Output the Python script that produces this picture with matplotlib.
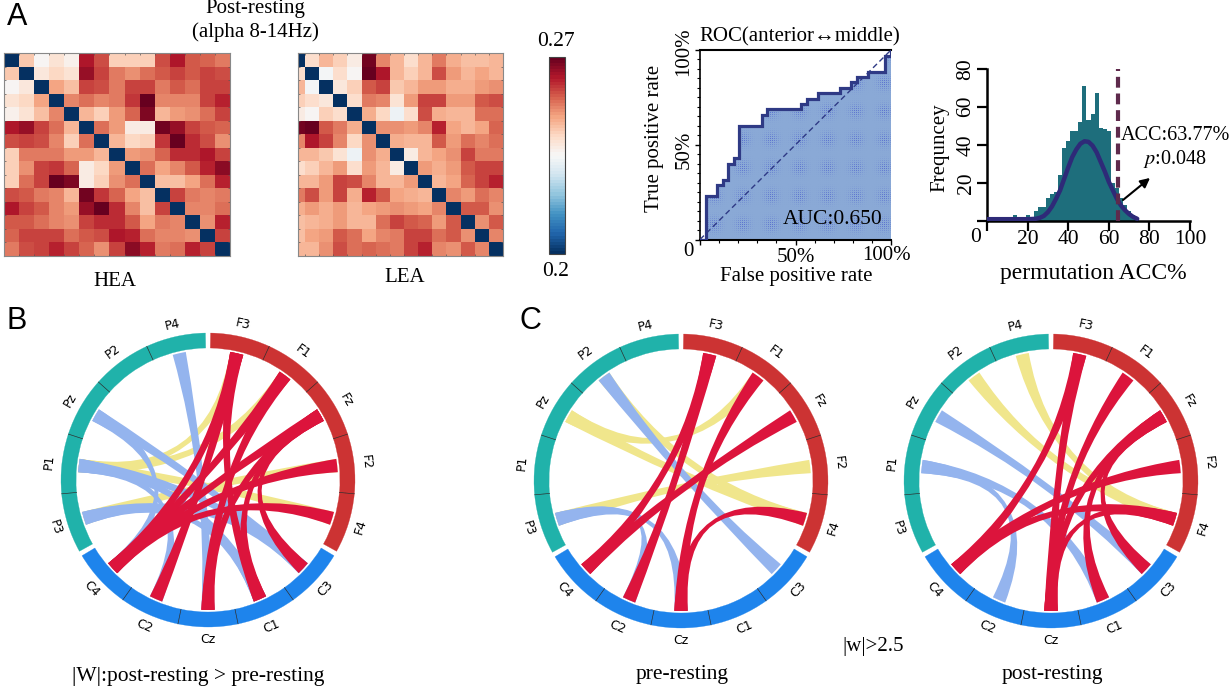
import numpy as np
import matplotlib
matplotlib.use("Agg")
import matplotlib.pyplot as plt
from matplotlib.patches import Wedge, PathPatch
from matplotlib.path import Path

# ---------- data ----------
hea_upper = [
 [.244,.236,.240,.237,.263,.257,.243,.243,.243,.257,.263,.256,.255,.253],
 [.239,.242,.240,.265,.259,.253,.251,.254,.256,.258,.256,.259,.257],
 [.249,.245,.259,.257,.253,.259,.259,.253,.256,.254,.258,.258],
 [.252,.254,.252,.253,.260,.269,.252,.252,.252,.258,.262],
 [.247,.243,.250,.255,.267,.246,.250,.251,.254,.259],
 [.254,.250,.238,.238,.268,.265,.259,.256,.255],
 [.247,.242,.243,.260,.270,.261,.257,.251],
 [.250,.251,.255,.261,.261,.263,.259],
 [.254,.249,.252,.256,.262,.266],
 [.245,.245,.249,.254,.262],
 [.258,.253,.252,.253],
 [.252,.252,.254],
 [.251,.262],
 [.259],
]
lea_upper = [
 [.241,.247,.243,.238,.268,.252,.247,.241,.247,.253,.248,.245,.245,.246],
 [.235,.241,.236,.270,.263,.247,.243,.247,.257,.250,.247,.249,.247],
 [.239,.243,.256,.258,.244,.246,.250,.250,.248,.248,.250,.251],
 [.241,.253,.252,.240,.250,.259,.259,.250,.250,.256,.257],
 [.248,.242,.233,.241,.257,.248,.247,.247,.254,.254],
 [.251,.251,.250,.252,.262,.249,.246,.249,.255],
 [.248,.247,.247,.256,.250,.254,.252,.254],
 [.238,.246,.249,.251,.258,.253,.253],
 [.250,.248,.250,.256,.259,.258],
 [.247,.249,.255,.259,.262],
 [.252,.250,.254,.252],
 [.256,.256,.251],
 [.251,.256],
 [.252],
]
roc_fpr = [0,3,3,9,9,12,12,14.5,14.5,17.6,17.6,20.6,20.6,32.5,32.5,35,35,53,53,56,56,61.6,61.6,73.3,73.3,78.9,78.9,82,82,88,88,96.9,96.9,100,100]
roc_tpr = [0,0,23,23,28.7,28.7,31.3,31.3,39.8,39.8,43,43,59.9,59.9,65.7,65.7,68.8,68.8,71.5,71.5,74,74,77.5,77.5,79.8,79.8,83,83,86,86,88.6,88.6,97,97,100]
hist_left = [1,3,5,7,9,11,13,15,17,19,21,23,25,27,29,31,33,35,37,39,41,43,45,47,49,51,53,55,57,59,61,63,65,67,69,71,73]
hist_freq = [1,1,1,1,1,1,3,1,1,3,1,5,7,7,12,14,15,24,38,42,47,47,52,71,53,56,67,49,48,47,20,17,12,8,5,3,1]
fit_x = [0,10,20,24,26,28,30,32,34,36,38,40,42,44,46,48,50,52,54,56,58,60,62,64,66,68,70,72,74]
fit_y = [.8,.8,.8,1,1.5,2.5,4.5,7.5,11.5,16,22,28,33.5,37.5,40.5,41.8,41.5,39.5,36,31,26,20.5,16,11.5,8,5.5,3.5,2,1]

sector_names = ["F3","F1","Fz","F2","F4","C3","C1","Cz","C2","C4","P3","P1","Pz","P2","P4"]
links_b_red = [("C4","F3"),("C4","F1"),("C4","Fz"),("C4","F2"),("C4","F4"),("C2","F3"),("C1","F3"),("C1","Fz"),("C3","Fz"),("Cz","F1"),("Cz","Fz")]
links_b_blue = [("P4","Cz"),("Pz","C3"),("Pz","C4"),("P1","C2"),("P1","C1"),("P1","C3"),("P3","C3"),("P3","C1")]
links_b_yellow = [("F3","P1"),("F1","P1"),("F2","P3"),("F4","P1")]
links_c1_red = [("F3","C4"),("F3","C2"),("Fz","C4"),("F1","Cz"),("F4","Cz")]
links_c1_blue = [("P2","C3"),("P3","Cz"),("P3","C2")]
links_c1_yellow = [("Pz","F1"),("Pz","F4"),("P2","F4"),("F2","P3")]
links_c2_red = [("F3","C4"),("F3","Cz"),("F1","Cz"),("Fz","C1"),("Fz","C3"),("Fz","Cz"),("F2","C4"),("F4","C4"),("F4","Cz")]
links_c2_blue = [("Pz","C3"),("P1","C2"),("P1","C1")]
links_c2_yellow = [("P4","F4"),("P2","F4")]

# ---------- layout helpers ----------
W, H = 1232, 686
plt.rcParams['font.family'] = ['Liberation Serif', 'DejaVu Sans']
fig = plt.figure(figsize=(W/100, H/100), dpi=100)

def px_axes(x0, y0, x1, y1, **kw):
    return fig.add_axes([x0/W, 1-y1/H, (x1-x0)/W, (y1-y0)/H], **kw)

overlay = px_axes(0, 0, W, H)
overlay.set_xlim(0, W); overlay.set_ylim(H, 0); overlay.axis('off'); overlay.set_zorder(10)

def T(x, y, s, size=13, **kw):
    kw.setdefault('ha', 'center'); kw.setdefault('va', 'center')
    overlay.text(x, y, s, fontsize=size, **kw)

def sym(upper):
    m = np.full((15, 15), 0.2)
    for i, row in enumerate(upper):
        for k, v in enumerate(row):
            m[i, i+k+1] = m[i+k+1, i] = v
    return m

# ---------- heat maps ----------
cmap = plt.get_cmap('RdBu_r', 64)
ax1 = px_axes(4, 53, 230, 256)
im = ax1.imshow(sym(hea_upper), cmap=cmap, vmin=.2, vmax=.27, aspect='auto', interpolation='nearest')
ax2 = px_axes(298, 53, 503, 256)
ax2.imshow(sym(lea_upper), cmap=cmap, vmin=.2, vmax=.27, aspect='auto', interpolation='nearest')
ax2.set_xlim(0, 14.5)
for a in (ax1, ax2):
    a.set_xticks(np.arange(.5, 14)); a.set_yticks(np.arange(.5, 14))
    a.tick_params(length=1.5, width=.5, labelleft=False, labelbottom=False, color='#555555', direction='in', top=True, right=True)
    for s in a.spines.values():
        s.set_color('#888888'); s.set_linewidth(.8)
cax = px_axes(549, 57, 565, 254)
cb = fig.colorbar(im, cax=cax)
cb.set_ticks([]); cb.outline.set_edgecolor('#444444'); cb.outline.set_linewidth(.8)

T(255, 9, "Post-resting", 15)
T(255, 32, "(alpha 8-14Hz)", 15)
T(115, 281, "HEA", 15)
T(405, 278, "LEA", 15)
T(556, 42, "0.27", 15.5)
T(556, 271, "0.2", 15.5)

# ---------- ROC ----------
ax3 = px_axes(700, 50, 891, 239.5)
ax3.fill_between(roc_fpr, roc_tpr, 0, color='#8AA9D6', lw=0, zorder=1)
# halftone texture of the area fill (decoration, not data)
yy, xx = np.mgrid[0:190, 0:191]
dx = (xx % 28.3) - 14.15
dy = (yy % 28.3) - 14.15
halftone = np.zeros((190, 191, 4))
halftone[..., :3] = np.array([70, 90, 205])/255
halftone[..., 3] = np.exp(-(dx**2+dy**2)/(2*5.0**2))*((xx % 2 == 0) & (yy % 2 == 0))*.7
tex = ax3.imshow(halftone, extent=(0, 100, 0, 100), origin='lower', aspect='auto', zorder=2, interpolation='nearest')
tex.set_clip_path(Path(np.column_stack([roc_fpr+[100, 0], roc_tpr+[0, 0]])), ax3.transData)
ax3.plot(roc_fpr, roc_tpr, color='#2F3A85', lw=2.3, solid_joinstyle='miter', zorder=3)
ax3.plot([0, 100], [0, 100], color='#2F3A85', lw=1, ls=(0, (4, 2.5)), zorder=4)
ax3.set_xlim(0, 100); ax3.set_ylim(0, 100)
ax3.set_xticks([0, 50, 100]); ax3.set_yticks([0, 50, 100])
ax3.set_xticks(np.arange(0, 101, 10), minor=True); ax3.set_yticks(np.arange(0, 101, 5), minor=True)
ax3.tick_params(labelleft=False, labelbottom=False, length=3.5, width=1)
ax3.tick_params(which='minor', length=2, width=.8)
ax3.spines['right'].set_visible(False)
ax3.spines['top'].set_linewidth(1.5); ax3.spines['left'].set_linewidth(1.2); ax3.spines['bottom'].set_linewidth(1.5)
T(800, 37, "ROC(anterior↔middle)", 15)
T(833, 220, "AUC:0.650", 15.5)
T(688, 252, "0", 15)
T(796, 257, "50%", 15)
T(886, 256, "100%", 15)
T(796, 277, "False positive rate", 15)
T(654, 138, "True positive rate", 15, rotation=90)
T(684, 52, "100%", 15, rotation=90)
T(684, 150, "50%", 15, rotation=90)

# ---------- histogram ----------
ax4 = px_axes(987, 68.7, 1190, 220.7)
ax4.bar(hist_left, hist_freq, width=2, align='edge', color='#1E6E7C', lw=0, zorder=1)
ax4.plot(fit_x, fit_y, color='#2E2A78', lw=3.2, zorder=3, solid_capstyle='round')
ax4.axvline(64.3, color='#5E2A4C', lw=3, ls=(0, (2.6, 1.4)), zorder=4)
ax4.annotate("", xy=(80.3, 22.5), xytext=(67, 10.9),
             arrowprops=dict(arrowstyle='-|>', color='black', lw=1.5, mutation_scale=14, shrinkA=0, shrinkB=0), zorder=5)
ax4.set_xlim(0, 100); ax4.set_ylim(0, 80)
ax4.set_xticks([0, 20, 40, 60, 80, 100]); ax4.set_yticks([0, 20, 40, 60, 80])
ax4.tick_params(labelleft=False, labelbottom=False, length=7, width=1.6)
for s in ('top', 'right'):
    ax4.spines[s].set_visible(False)
ax4.spines['left'].set_linewidth(1.8); ax4.spines['bottom'].set_linewidth(1.8)
for v in (20, 40, 60, 80, 100):
    T(987+v*2.03, 240, str(v), 15.5)
T(976, 238, "0", 15.5)
for v in (20, 40, 60, 80):
    T(966, 220.7-v*1.9, str(v), 15.5, rotation=90)
T(940, 148, "Frequncey", 15, rotation=90)
T(1093, 274, "permutation ACC%", 17)
T(1175, 136, "ACC:63.77%", 14.5)
T(1175, 159, "$\\mathit{p}$:0.048", 14.5, math_fontfamily='stix')

# ---------- chord diagrams ----------
C_F, C_C, C_P = '#CC3333', '#1E84EC', '#20B2AA'
CRIMSON, LBLUE, KHAKI = '#DC143C', '#94B4EE', '#F0E68C'
SW, R_OUT, R_IN, R_LINK, HALF = 23.6, 147, 132, 130, 2.95
GROUP_START = [89, -31, -151]

def sector_span(i):
    g = i // 5
    a1 = GROUP_START[g] - SW*(i % 5)
    return a1 - SW, a1

def pol(r, deg):
    t = np.deg2rad(deg)
    return (r*np.cos(t), r*np.sin(t))

def chord(ax, a, b, color, z):
    ta, tb = sum(sector_span(sector_names.index(a)))/2, sum(sector_span(sector_names.index(b)))/2
    verts, codes = [], []
    arc_a = [ta-HALF, ta, ta+HALF]
    arc_b = [tb-HALF, tb, tb+HALF]
    verts += [pol(R_LINK, arc_a[0])]; codes += [Path.MOVETO]
    verts += [pol(R_LINK, arc_a[1]), pol(R_LINK, arc_a[2])]; codes += [Path.LINETO, Path.LINETO]
    verts += [(0, 0), pol(R_LINK, arc_b[0])]; codes += [Path.CURVE3, Path.CURVE3]
    verts += [pol(R_LINK, arc_b[1]), pol(R_LINK, arc_b[2])]; codes += [Path.LINETO, Path.LINETO]
    verts += [(0, 0), pol(R_LINK, arc_a[0])]; codes += [Path.CURVE3, Path.CURVE3]
    ax.add_patch(PathPatch(Path(verts, codes), fc=color, ec='none', zorder=z))

def chord_panel(cx, cy, red, blue, yellow):
    ax = px_axes(cx-175, cy-175, cx+175, cy+175)
    ax.set_xlim(-175, 175); ax.set_ylim(-175, 175); ax.axis('off')
    for i, name in enumerate(sector_names):
        a0, a1 = sector_span(i)
        col = (C_F, C_C, C_P)[i//5]
        ax.add_patch(Wedge((0, 0), R_OUT, a0, a1, width=R_OUT-R_IN, fc=col, ec=col, lw=.2, zorder=2))
        if i % 5:
            ax.plot(*zip(pol(R_IN, a1), pol(R_OUT, a1)), color='#222222', lw=.45, zorder=3)
        m = (a0+a1)/2
        rot = m-90 if np.sin(np.deg2rad(m)) > 0 else m+90
        x, y = pol(159.5, m)
        ax.text(x, y, name, family='DejaVu Sans', fontsize=9, rotation=rot, rotation_mode='anchor', ha='center', va='center')
    for a, b in yellow:
        chord(ax, a, b, KHAKI, 4)
    for a, b in blue:
        chord(ax, a, b, LBLUE, 5)
    for a, b in red:
        chord(ax, a, b, CRIMSON, 6)

chord_panel(208, 480, links_b_red, links_b_blue, links_b_yellow)
chord_panel(681, 481, links_c1_red, links_c1_blue, links_c1_yellow)
chord_panel(1051, 481, links_c2_red, links_c2_blue, links_c2_yellow)

T(198, 677, "|W|:post-resting > pre-resting", 15.5)
T(682, 675, "pre-resting", 15.5)
T(1052, 674, "post-resting", 15.5)
T(873, 647, "|w|>2.5", 15)
for x, y, s in ((17, 17, "A"), (17, 321, "B"), (530, 321, "C")):
    T(x, y, s, 22, family='Liberation Sans')

fig.savefig("out.png", dpi=100, facecolor='white')
